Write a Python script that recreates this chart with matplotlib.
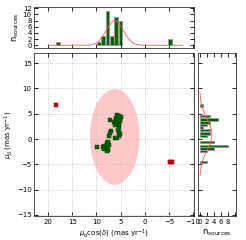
import numpy as np
import matplotlib
matplotlib.use("Agg")
import matplotlib.pyplot as plt
from matplotlib.patches import Ellipse

# member candidates (green) and field sources (red), proper motions in mas/yr
pmra_members = [5.73, 5.39, 6.00, 5.45, 5.12, 5.86, 7.23, 6.35, 5.73, 5.33, 6.20, 5.39,
                5.53, 5.33, 5.18, 6.20, 5.70, 5.30, 5.10, 5.00, 5.60,
                6.89, 7.23, 7.37,
                9.96, 8.73, 8.40, 7.90, 7.57, 8.40, 7.90, 7.57, 7.90, 8.10, 7.37]
pmdec_members = [4.68, 4.49, 4.17, 4.04, 3.84, 3.71, 3.71, 3.32, 3.19, 3.05, 2.86, 2.40,
                 1.73, 1.34, 0.95, 0.25, 0.25, 0.60, 3.50, 4.30, 4.30,
                 1.54, 1.22, 0.69,
                 -1.54, -1.61, -1.28, -0.83, -0.63, -1.93, -1.74, -2.20, -2.40, -1.41, -1.08]
pmra_field = [18.4, -5.25, -5.55]
pmdec_field = [6.8, -4.45, -4.55]

# histogram of pmra (top panel)
pmra_bins = [18.0, 9.5, 8.6, 7.7, 6.8, 5.9, 5.0, -5.3]
pmra_counts = [1, 1, 3, 11, 3, 9, 8, 2]

# histogram of pmdec (right panel)
pmdec_bins = [6.65, 4.5, 3.85, 3.3, 2.8, 2.27, 1.73, 1.08, 0.63, -0.55, -1.34, -1.87, -2.3, -4.5]
pmdec_counts = [1, 3, 5, 3, 2, 1, 3, 3, 2, 4, 8, 4, 2, 2]

# fitted gaussian of the cluster
mu_ra, sig_ra, amp_ra = 6.2, 1.75, 8.0
mu_dec, sig_dec, amp_dec = 0.9, 3.0, 3.4
ell_w, ell_h = 10.25, 18.9

GREEN = "#006400"
RED = "#cc0000"
CURVE = "#ff5555"

plt.rcParams["font.size"] = 5
plt.rcParams["axes.linewidth"] = 0.6
plt.rcParams["axes.edgecolor"] = "#333333"

fig = plt.figure(figsize=(2.46, 2.40), dpi=100)
ax = fig.add_axes([0.140, 0.100, 0.649, 0.679])
axt = fig.add_axes([0.140, 0.801, 0.649, 0.169])
axr = fig.add_axes([0.805, 0.100, 0.156, 0.679])

xlim = (22.8, -10.2)
ylim = (-15.2, 17.0)

# main scatter
ax.add_patch(Ellipse((mu_ra, 0.43), ell_w, ell_h, facecolor="#ffc8c8",
                     edgecolor="none", zorder=1))
ax.add_patch(Ellipse((-5.4, -4.5), 1.6, 1.2, facecolor="#ffb0b0",
                     edgecolor="none", alpha=0.7, zorder=1))
ax.scatter(pmra_members, pmdec_members, marker="s", s=6, color=GREEN,
           edgecolor="#003300", linewidth=0.3, zorder=3)
ax.scatter(pmra_field, pmdec_field, marker="s", s=5, color=RED,
           edgecolor="#800000", linewidth=0.3, zorder=3)
ax.set_xlim(xlim)
ax.set_ylim(ylim)
ax.set_xticks([20, 15, 10, 5, 0, -5, -10])
ax.set_yticks([-15, -10, -5, 0, 5, 10, 15])
ax.grid(True, ls=":", color="#bbbbbb", lw=0.6)
ax.set_xlabel(r"$\mu_\alpha\cos(\delta)$ (mas yr$^{-1}$)", fontsize=5, labelpad=2)
ax.set_ylabel(r"$\mu_\delta$ (mas yr$^{-1}$)", fontsize=5, labelpad=1)

# top histogram
axt.bar(pmra_bins, pmra_counts, width=0.8, color=GREEN, edgecolor="#999999", linewidth=0.7)
xs = np.linspace(20.0, -7.8, 300)
axt.plot(xs, amp_ra * np.exp(-0.5 * ((xs - mu_ra) / sig_ra) ** 2), color=CURVE, lw=0.6)
axt.set_xlim(xlim)
axt.set_ylim(-0.8, 12.3)
axt.set_xticks([20, 15, 10, 5, 0, -5, -10])
axt.set_xticklabels([])
axt.set_yticks([0, 2, 4, 6, 8, 10, 12])
axt.set_ylabel(r"n$_{\rm sources}$", fontsize=6, labelpad=1)

# right histogram
axr.barh(pmdec_bins, pmdec_counts, height=0.45, color=GREEN, edgecolor="#999999", linewidth=0.7)
ys = np.linspace(9.1, -7.2, 300)
axr.plot(amp_dec * np.exp(-0.5 * ((ys - mu_dec) / sig_dec) ** 2), ys, color=CURVE, lw=0.6)
axr.set_ylim(ylim)
axr.set_xlim(-0.5, 10.3)
axr.set_yticks([-15, -10, -5, 0, 5, 10, 15])
axr.set_yticklabels([])
axr.set_xticks([0, 2, 4, 6, 8, 10])
axr.set_xticklabels(["0", "2", "4", "6", "8", ""])
axr.set_xlabel(r"n$_{\rm sources}$", fontsize=6, labelpad=2)

for a in (ax, axt, axr):
    a.tick_params(direction="in", top=True, right=True, length=3, width=0.6,
                  labelsize=5, pad=2)

fig.savefig("out.png", dpi=100)
